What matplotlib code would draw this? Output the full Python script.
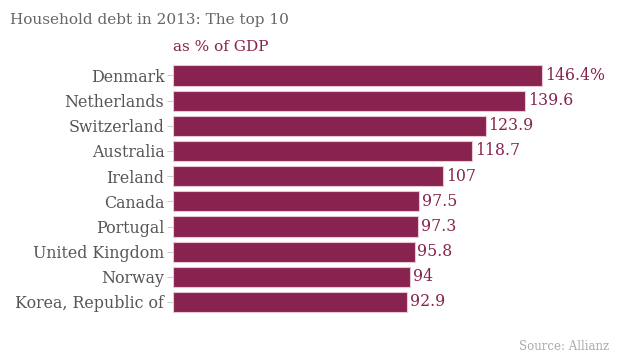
import matplotlib.pyplot as plt

# Data
countries = ["Denmark", "Netherlands", "Switzerland", "Australia", "Ireland",
             "Canada", "Portugal", "United Kingdom", "Norway", "Korea, Republic of"]
debt = [146.4, 139.6, 123.9, 118.7, 107, 97.5, 97.3, 95.8, 94, 92.9]
value_labels = ["146.4%", "139.6", "123.9", "118.7", "107",
                "97.5", "97.3", "95.8", "94", "92.9"]

bar_color = "#88224f"
font = "DejaVu Serif"

W, H = 620, 354
fig = plt.figure(figsize=(W / 100, H / 100), dpi=100)

# axes placed in pixel terms
left_px, right_px = 172.7, 620
top_px, bottom_px = 60.4, 317.1
ax = fig.add_axes([left_px / W, 1 - bottom_px / H,
                   (right_px - left_px) / W, (bottom_px - top_px) / H])

y = list(range(len(countries)))
ax.barh(y, debt, height=0.8, color=bar_color, edgecolor="#e8c6d6", linewidth=0.8)
ax.set_ylim(len(countries) - 0.4, -0.6)
ax.set_xlim(0, (right_px - left_px) / 2.525)

for yi, v, lab in zip(y, debt, value_labels):
    ax.text(v + 1.1, yi, lab, va="center", ha="left", color=bar_color,
            fontsize=11.3, family=font)

ax.set_yticks(y)
ax.set_yticklabels(countries, fontsize=11.4, family=font, color="#555555")
ax.tick_params(axis="y", length=4, color="#cccccc", pad=2)
ax.set_xticks([])
for s in ax.spines.values():
    s.set_visible(False)

fig.text(10 / W, 1 - 20 / H, "Household debt in 2013: The top 10", fontsize=11,
         family=font, color="#666666", va="center", ha="left")
fig.text(173 / W, 1 - 47 / H, "as % of GDP", fontsize=11, family=font,
         color=bar_color, va="center", ha="left")
fig.text(609 / W, 1 - 346 / H, "Source: Allianz", fontsize=8.5, family=font,
         color="#aaaaaa", va="center", ha="right")

fig.savefig("out.png", dpi=100)
